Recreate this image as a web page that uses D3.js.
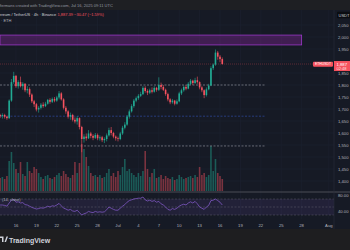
<!DOCTYPE html>
<html>
<head>
<meta charset="utf-8">
<script src="https://cdn.jsdelivr.net/npm/d3@7"></script>
<style>
html, body { margin: 0; padding: 0; background: #161a25; overflow: hidden; }
svg { display: block; font-family: "Liberation Sans", Arial, sans-serif; }
</style>
</head>
<body>
<svg id="chart" width="350" height="250"></svg>
<script>
// ETHUSDT 4h (drawn as 8h bars), Jun 13 16:00 -> Jul 16 08:00 UTC
const firstTime = '2025-06-13T16:00:00Z';
const firstOpen = 1675;
const closes = [1670,
  1675, 1668, 1662, 1735, 1812, 1838, 1795, 1812, 1795, 1805,
  1778, 1783, 1760, 1732, 1720, 1698, 1705, 1718, 1712, 1722,
  1738, 1730, 1742, 1735, 1748, 1765, 1740, 1705, 1690, 1668,
  1675, 1655, 1648, 1662, 1625, 1575, 1585, 1578, 1598, 1588,
  1580, 1592, 1578, 1582, 1570, 1575, 1590, 1612, 1600, 1585,
  1578, 1575, 1598, 1622, 1635, 1668, 1690, 1712, 1735, 1745,
  1755, 1762, 1788, 1775, 1768, 1778, 1772, 1788, 1780, 1800,
  1792, 1780, 1762, 1740, 1728, 1735, 1722, 1732, 1765, 1778,
  1792, 1785, 1805, 1818, 1808, 1820, 1812, 1790, 1778, 1758,
  1782, 1798, 1870, 1885, 1935, 1918, 1908, 1887.39];
const highs = [1680,
  1682, 1680, 1672, 1740, 1825, 1855, 1842, 1820, 1835, 1812,
  1808, 1795, 1790, 1765, 1738, 1725, 1712, 1725, 1728, 1730,
  1742, 1745, 1748, 1750, 1755, 1775, 1770, 1745, 1712, 1695,
  1685, 1680, 1665, 1670, 1665, 1630, 1595, 1598, 1612, 1605,
  1595, 1600, 1598, 1590, 1588, 1582, 1598, 1622, 1625, 1605,
  1590, 1585, 1605, 1630, 1645, 1675, 1698, 1720, 1742, 1752,
  1762, 1772, 1795, 1795, 1782, 1785, 1790, 1795, 1792, 1832,
  1810, 1800, 1785, 1768, 1745, 1742, 1738, 1740, 1772, 1785,
  1798, 1800, 1812, 1825, 1822, 1830, 1835, 1815, 1795, 1782,
  1790, 1805, 1878, 1890, 1948, 1942, 1925, 1915];
const lows = [1662,
  1660, 1660, 1655, 1658, 1730, 1805, 1788, 1785, 1790, 1780,
  1770, 1765, 1750, 1725, 1708, 1690, 1685, 1698, 1705, 1708,
  1718, 1722, 1725, 1728, 1730, 1740, 1735, 1698, 1680, 1660,
  1655, 1648, 1640, 1635, 1615, 1520, 1560, 1568, 1575, 1578,
  1570, 1575, 1570, 1568, 1562, 1558, 1565, 1585, 1590, 1578,
  1568, 1565, 1570, 1592, 1615, 1630, 1660, 1685, 1705, 1728,
  1738, 1750, 1758, 1768, 1758, 1762, 1765, 1768, 1772, 1775,
  1782, 1775, 1755, 1732, 1720, 1722, 1715, 1718, 1728, 1758,
  1772, 1778, 1782, 1800, 1800, 1805, 1805, 1782, 1770, 1745,
  1752, 1778, 1795, 1862, 1880, 1905, 1895, 1885];
// volume, thousand ETH
const volumes = [13,
  14, 12, 15, 30, 39, 28, 22, 18, 29, 17,
  15, 29, 20, 18, 24, 22, 18, 14, 12, 15,
  16, 13, 12, 14, 16, 18, 15, 20, 17, 14,
  13, 16, 29, 18, 28, 47, 42, 34, 25, 18,
  15, 16, 14, 16, 13, 14, 18, 22, 15, 18,
  14, 20, 16, 24, 32, 20, 22, 18, 16, 14,
  18, 15, 20, 40, 22, 14, 18, 22, 13, 14,
  16, 12, 15, 13, 12, 14, 11, 12, 16, 14,
  12, 13, 14, 15, 13, 16, 14, 24, 16, 18,
  14, 16, 45, 20, 32, 18, 15, 12];
const rsiValues = [55,
  55, 54, 52, 60, 67, 69, 62, 63, 60, 61,
  56, 55, 52, 49, 47, 45, 46, 48, 47, 49,
  52, 50, 53, 52, 55, 59, 53, 47, 45, 42,
  44, 40, 39, 42, 36, 30, 33, 35, 39, 37,
  36, 39, 37, 38, 37, 38, 43, 50, 47, 44,
  42, 42, 47, 52, 56, 62, 66, 68, 70, 71,
  72, 72, 75, 68, 65, 67, 64, 66, 62, 64,
  58, 55, 50, 44, 42, 46, 44, 47, 52, 55,
  57, 55, 60, 63, 60, 64, 58, 50, 47, 44,
  50, 54, 66, 67, 70, 66, 62, 55];

const priceTicks = [1400, 1450, 1500, 1550, 1600, 1650, 1700, 1750, 1800, 1850, 1900, 1950, 2000, 2050];
const rsiTicks = [80, 40];
const rsiLevels = [70, 50, 30];
const timeTicks = ['2025-06-16', '2025-06-19', '2025-06-22', '2025-06-25', '2025-06-28', '2025-07-01',
  '2025-07-04', '2025-07-07', '2025-07-10', '2025-07-13', '2025-07-16', '2025-07-19',
  '2025-07-22', '2025-07-25', '2025-07-28', '2025-08-01'];
const timeLabels = ['16', '19', '22', '25', '28', 'Jul', '4', '7', '10', '13', '16', '19', '22', '25', '28', 'Aug'];
const levels = [1800, 1670, 1546];
const levelEnd = '2025-07-22T14:00:00Z';
const zonePrices = [1967, 2008];
const zoneEnd = '2025-07-28T00:00:00Z';
const lastPrice = 1887.39;

const STEP = 8 * 3600 * 1000;
const plotRight = 334;
const up = '#22ab94', down = '#f7525f';

const svg = d3.select('#chart');

const x = d3.scaleUtc()
  .domain([new Date('2025-06-13T15:36:00Z'), new Date('2025-08-01T18:14:00Z')])
  .range([0, plotRight]);
const y = d3.scaleLinear().domain([1400, 2000]).range([181, 37]);
const yVol = d3.scaleLinear().domain([0, 50]).range([191, 141]);
const yRsi = d3.scaleLinear().domain([30, 70]).range([215, 199]);

const t0 = new Date(firstTime).getTime();
const candles = closes.map(function (c, i) {
  return {
    t: new Date(t0 + i * STEP),
    o: i ? closes[i - 1] : firstOpen,
    h: highs[i], l: lows[i], c: c,
    v: volumes[i], r: rsiValues[i]
  };
});
const barW = x(new Date(t0 + STEP)) - x(new Date(t0));

// backgrounds
svg.append('rect').attr('width', 350).attr('height', 250).attr('fill', '#161a25');
svg.append('rect').attr('width', 350).attr('height', 10).attr('fill', '#1e1f23');

// grid
svg.append('g').selectAll('line')
  .data(timeTicks)
  .enter()
  .append('line')
  .attr('x1', d => x(new Date(d + 'T00:00:00Z')))
  .attr('x2', d => x(new Date(d + 'T00:00:00Z')))
  .attr('y1', 10).attr('y2', 219)
  .attr('stroke', '#1d2130').attr('stroke-width', 0.6);
svg.append('g').selectAll('line')
  .data(priceTicks)
  .enter()
  .append('line')
  .attr('x1', 0).attr('x2', plotRight)
  .attr('y1', d => y(d)).attr('y2', d => y(d))
  .attr('stroke', '#1d2130').attr('stroke-width', 0.6);

// volume
svg.append('g').selectAll('rect')
  .data(candles)
  .enter()
  .append('rect')
  .attr('x', d => x(d.t) - barW * 0.35)
  .attr('width', barW * 0.7)
  .attr('y', d => yVol(d.v))
  .attr('height', d => yVol(0) - yVol(d.v))
  .attr('fill', d => d.c >= d.o ? up : down)
  .attr('opacity', 0.45);

// zone
svg.append('rect')
  .attr('x', 0)
  .attr('width', x(new Date(zoneEnd)))
  .attr('y', y(zonePrices[1]))
  .attr('height', y(zonePrices[0]) - y(zonePrices[1]))
  .attr('fill', '#9c27b0').attr('fill-opacity', 0.32)
  .attr('stroke', '#9c38c8').attr('stroke-width', 0.8);

// horizontal levels
svg.append('g').selectAll('line')
  .data(levels)
  .enter()
  .append('line')
  .attr('x1', 0).attr('x2', x(new Date(levelEnd)))
  .attr('y1', d => y(d)).attr('y2', d => y(d))
  .attr('stroke', (d, i) => i == 1 ? '#2f4aa0' : '#8a8d96')
  .attr('stroke-width', 0.7)
  .attr('stroke-dasharray', '2,1.5');

// last price line
svg.append('line')
  .attr('x1', 0).attr('x2', 313)
  .attr('y1', y(lastPrice)).attr('y2', y(lastPrice))
  .attr('stroke', down).attr('stroke-opacity', 0.45)
  .attr('stroke-width', 0.7).attr('stroke-dasharray', '1,1');

// candles
const cg = svg.append('g');
cg.selectAll('line')
  .data(candles)
  .enter()
  .append('line')
  .attr('x1', d => x(d.t)).attr('x2', d => x(d.t))
  .attr('y1', d => y(d.h)).attr('y2', d => y(d.l))
  .attr('stroke', d => d.c >= d.o ? up : down)
  .attr('stroke-width', 0.6);
cg.selectAll('rect')
  .data(candles)
  .enter()
  .append('rect')
  .attr('x', d => x(d.t) - barW * 0.35)
  .attr('width', barW * 0.7)
  .attr('y', d => y(Math.max(d.o, d.c)))
  .attr('height', d => Math.max(0.6, Math.abs(y(d.o) - y(d.c))))
  .attr('fill', d => d.c >= d.o ? up : down);

// RSI pane
svg.append('line').attr('x1', 0).attr('x2', 350).attr('y1', 192).attr('y2', 192)
  .attr('stroke', '#4a4d57').attr('stroke-width', 1);
svg.append('rect')
  .attr('x', 0).attr('width', plotRight)
  .attr('y', yRsi(70)).attr('height', yRsi(30) - yRsi(70))
  .attr('fill', '#7e57c2').attr('fill-opacity', 0.12);
svg.append('g').selectAll('line')
  .data(rsiLevels)
  .enter()
  .append('line')
  .attr('x1', 0).attr('x2', plotRight)
  .attr('y1', d => yRsi(d)).attr('y2', d => yRsi(d))
  .attr('stroke', '#787b86').attr('stroke-opacity', 0.7)
  .attr('stroke-width', 0.5).attr('stroke-dasharray', '2,1.5');
svg.append('path')
  .datum(candles)
  .attr('fill', 'none')
  .attr('stroke', '#7e57c2')
  .attr('stroke-width', 0.8)
  .attr('d', d3.line().x(d => x(d.t)).y(d => yRsi(d.r)));
svg.append('text').attr('x', 2).attr('y', 200.5)
  .attr('font-size', 4).attr('fill', '#b2b5be').text('(14, close)');

// right axis (ticks hidden behind the last price label are skipped, as on the chart)
const yl = y(lastPrice);
svg.append('line').attr('x1', plotRight).attr('x2', plotRight).attr('y1', 10).attr('y2', 229)
  .attr('stroke', '#2a2e39').attr('stroke-width', 0.6);
svg.append('g').selectAll('text')
  .data(priceTicks.filter(d => Math.abs(y(d) - yl) > 6))
  .enter()
  .append('text')
  .attr('x', 338)
  .attr('y', d => y(d) + 1.5)
  .attr('font-size', 4.2)
  .attr('fill', '#b2b5be')
  .text(d => d3.format(',')(d));
svg.append('g').selectAll('text')
  .data(rsiTicks)
  .enter()
  .append('text')
  .attr('x', 338)
  .attr('y', d => yRsi(d) + 1.5)
  .attr('font-size', 4.2)
  .attr('fill', '#b2b5be')
  .text(d => d3.format('.2f')(d));

svg.append('rect').attr('x', 337).attr('y', 11.7).attr('width', 14).attr('height', 6.6)
  .attr('rx', 1).attr('fill', '#0b0d12');
svg.append('text').attr('x', 338.5).attr('y', 16.5).attr('font-size', 4)
  .attr('fill', '#d1d4dc').text('USDT');

// last price labels
svg.append('rect').attr('x', 313).attr('y', yl - 2.4).attr('width', 20).attr('height', 5)
  .attr('rx', 0.8).attr('fill', down);
svg.append('text').attr('x', 323).attr('y', yl + 1.3).attr('text-anchor', 'middle')
  .attr('font-size', 3.4).attr('fill', '#fff').text('ETHUSDT');
svg.append('rect').attr('x', 334).attr('y', yl - 3).attr('width', 17).attr('height', 10)
  .attr('fill', down);
svg.append('text').attr('x', 336.5).attr('y', yl + 1.5).attr('font-size', 4.2)
  .attr('fill', '#fff').text(d3.format(',.0f')(lastPrice));
svg.append('text').attr('x', 336.5).attr('y', yl + 6).attr('font-size', 4)
  .attr('fill', '#fff').attr('fill-opacity', 0.85).text('02:48');

// time axis
svg.append('g').selectAll('text')
  .data(timeTicks)
  .enter()
  .append('text')
  .attr('x', d => x(new Date(d + 'T00:00:00Z')))
  .attr('y', 226.5)
  .attr('text-anchor', 'middle')
  .attr('font-size', 4.2)
  .attr('fill', '#b2b5be')
  .text((d, i) => timeLabels[i]);

// header
svg.append('text').attr('x', -1).attr('y', 7).attr('font-size', 4)
  .attr('fill', '#9598a1')
  .text('ffermans created with TradingView.com, Jul 16, 2025 09:11 UTC');
const legend = svg.append('text').attr('x', -1).attr('y', 16.3).attr('font-size', 4);
legend.append('tspan').attr('fill', '#d1d4dc').text('ereum / TetherUS · 4h · Binance ');
legend.append('tspan').attr('fill', down).text('1,887.39  −30.47 (−1.59%)');
svg.append('text').attr('x', 1).attr('y', 21.5).attr('font-size', 4)
  .attr('fill', '#b2b5be').text('· ETH');

// footer
svg.append('rect').attr('y', 229).attr('width', 350).attr('height', 21).attr('fill', '#1e1e20');
svg.append('path').attr('d', 'M0,236.5 L3.5,236.5 L3.5,242 L2,242 L2,238 L0,238 Z M4.5,242 L6.5,236.5 L8,236.5 L6,242 Z')
  .attr('fill', '#d1d4dc');
svg.append('text').attr('x', 9).attr('y', 242.5).attr('font-size', 7)
  .attr('font-weight', 'bold').attr('fill', '#d1d4dc').text('TradingView');
</script>
</body>
</html>
